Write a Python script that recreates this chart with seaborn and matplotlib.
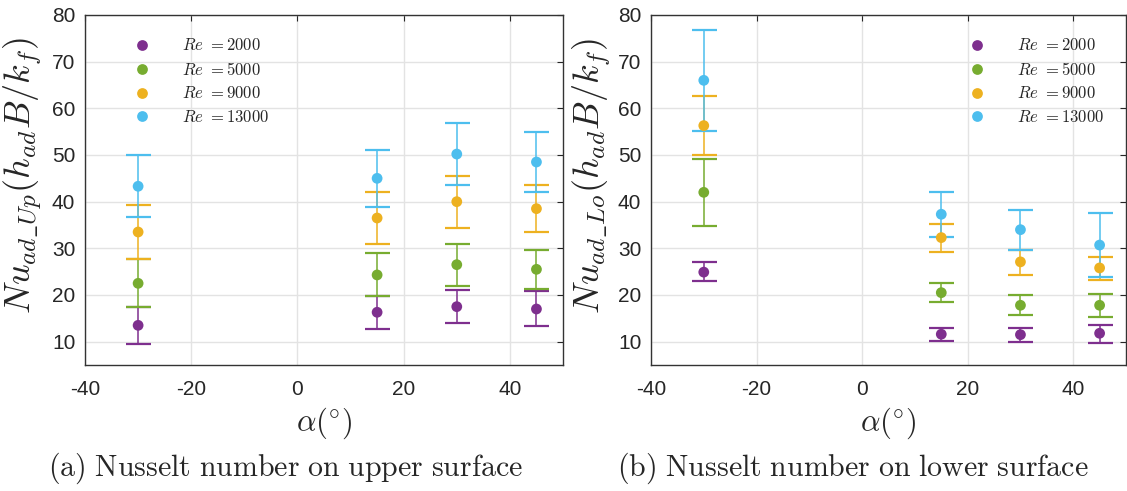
import matplotlib
matplotlib.use("Agg")
import matplotlib.pyplot as plt
import numpy as np
import pandas as pd
import seaborn as sns

# Angle of attack (degrees) and Reynolds numbers
alpha = [-30, 15, 30, 45]
reynolds = ["2000", "5000", "9000", "13000"]

# Upper surface: mean Nusselt number, lower and upper error limits (rows follow `reynolds`)
up_mean = [[13.5, 16.3, 17.5, 17.0],
           [22.5, 24.3, 26.5, 25.5],
           [33.5, 36.5, 40.0, 38.5],
           [43.3, 45.0, 50.2, 48.5]]
up_low = [[9.4, 12.8, 13.9, 13.3],
          [17.4, 19.8, 22.0, 21.3],
          [27.8, 31.0, 34.4, 33.5],
          [36.7, 38.9, 43.5, 42.1]]
up_high = [[17.4, 19.8, 21.1, 20.8],
           [27.8, 28.9, 30.9, 29.7],
           [39.2, 42.0, 45.5, 43.5],
           [49.9, 51.1, 56.9, 54.9]]

# Lower surface
lo_mean = [[24.9, 11.6, 11.5, 11.8],
           [42.0, 20.5, 17.8, 17.8],
           [56.3, 32.3, 27.1, 25.8],
           [66.0, 37.3, 34.0, 30.7]]
lo_low = [[22.9, 10.2, 10.0, 9.8],
          [34.7, 18.4, 15.8, 15.3],
          [50.0, 29.3, 24.3, 23.3],
          [55.1, 32.5, 29.6, 23.9]]
lo_high = [[27.0, 13.0, 13.0, 13.5],
           [49.2, 22.5, 19.9, 20.3],
           [62.7, 35.3, 29.6, 28.2],
           [76.8, 42.0, 38.3, 37.5]]

colors = ["#7E2F8E", "#77AC30", "#EDB120", "#4DBEEE"]
x_ticks = [-40, -20, 0, 20, 40]
y_ticks = [10, 20, 30, 40, 50, 60, 70, 80]


def to_frame(mean, low, high):
    rows = []
    for i, re in enumerate(reynolds):
        for j, a in enumerate(alpha):
            rows.append({"alpha": a, "Re": re, "Nu": mean[i][j],
                         "low": low[i][j], "high": high[i][j]})
    return pd.DataFrame(rows)


sns.set_style("whitegrid")
plt.rcParams.update({
    "font.family": ["Liberation Sans", "DejaVu Sans"],
    "mathtext.fontset": "cm",
    "axes.unicode_minus": False,
    "grid.color": "#e3e3e3",
    "grid.linewidth": 1.0,
})

fig = plt.figure(figsize=(11.27, 4.91), dpi=100)
ax_up = fig.add_axes([85 / 1127, 1 - 365 / 491, 478 / 1127, 350 / 491])
ax_lo = fig.add_axes([651 / 1127, 1 - 365 / 491, 475 / 1127, 350 / 491])

panels = [
    (ax_up, to_frame(up_mean, up_low, up_high), r"$Nu_{ad\_Up}(h_{ad}B/k_f)$",
     (0.101, 0.936), -0.085),
    (ax_lo, to_frame(lo_mean, lo_low, lo_high), r"$Nu_{ad\_Lo}(h_{ad}B/k_f)$",
     (0.669, 0.936), -0.08),
]

for ax, df, ylab, leg_anchor, ylab_x in panels:
    # asymmetric error bars, one series per Reynolds number
    for re, col in zip(reynolds, colors):
        sub = df[df["Re"] == re]
        yerr = np.vstack([sub["Nu"] - sub["low"], sub["high"] - sub["Nu"]])
        ax.errorbar(sub["alpha"], sub["Nu"], yerr=yerr, fmt="none",
                    ecolor=col, elinewidth=1.1, capsize=9, capthick=1.6,
                    zorder=2)
    sns.scatterplot(data=df, x="alpha", y="Nu", hue="Re", hue_order=reynolds,
                    palette=colors, s=60, edgecolor="none", ax=ax, zorder=3)

    ax.set_xlim(-40, 50)
    ax.set_ylim(5, 80)
    ax.set_xticks(x_ticks)
    ax.set_yticks(y_ticks)
    ax.tick_params(direction="in", length=4, width=0.8, top=True, right=True,
                   labelsize=15, colors="#262626", pad=7)
    ax.tick_params(axis="x", pad=11)
    for s in ax.spines.values():
        s.set_visible(True)
        s.set_color("#333333")
        s.set_linewidth(1.0)

    ax.set_xlabel(r"$\alpha(^{\circ})$", fontsize=22)
    ax.xaxis.set_label_coords(0.5, -0.115)
    ax.set_ylabel(ylab, fontsize=26)
    ax.yaxis.set_label_coords(ylab_x, 0.54)

    handles, labels = ax.get_legend_handles_labels()
    ax.legend(handles, [rf"$Re\ {{=}}{r}$" for r in reynolds],
              loc="upper left", bbox_to_anchor=leg_anchor, frameon=False,
              fontsize=12, handlelength=1.0, handletextpad=1.9,
              labelspacing=0.45, borderpad=0, borderaxespad=0)

fig.text(285 / 1127, 1 - 468 / 491,
         r"$\mathrm{(a)\ Nusselt\ number\ on\ upper\ surface}$",
         ha="center", va="center", fontsize=21.5)
fig.text(853 / 1127, 1 - 468 / 491,
         r"$\mathrm{(b)\ Nusselt\ number\ on\ lower\ surface}$",
         ha="center", va="center", fontsize=21.5)

fig.savefig("out.png", dpi=100)
